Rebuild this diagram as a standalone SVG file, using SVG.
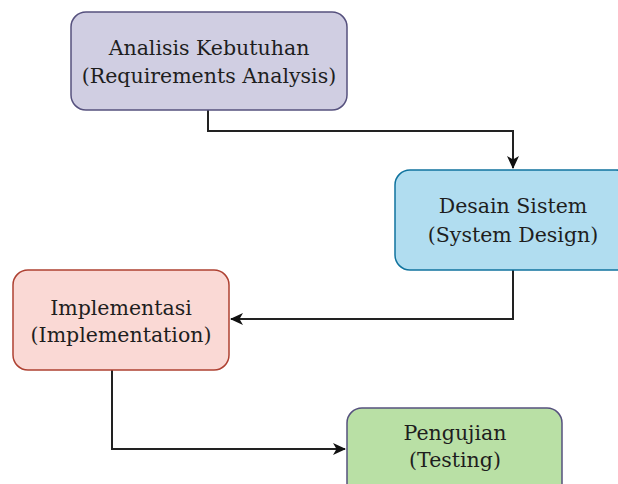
<svg xmlns="http://www.w3.org/2000/svg" width="618" height="484" viewBox="0 0 618 484">
  <style>
    .box { stroke-width: 1.5; }
    .lbl { font-family: "DejaVu Serif", "Liberation Serif", serif; font-size: 20.5px; fill: #1e1e1e; text-anchor: middle; }
    .edge { fill: none; stroke: #222; stroke-width: 2; }
  </style>
  <defs>
    <marker id="arrow" viewBox="0 0 13 12" refX="12" refY="6" markerWidth="13" markerHeight="12" markerUnits="userSpaceOnUse" orient="auto">
      <path d="M0,0 L13,6 L0,12 L3.5,6 Z" fill="#111"/>
    </marker>
  </defs>
  <rect width="618" height="484" fill="#fff"/>

  <g id="connectors">
    <path class="edge" d="M208,110 V131 H513 V168" marker-end="url(#arrow)"/>
    <path class="edge" d="M513,270 V319 H231" marker-end="url(#arrow)"/>
    <path class="edge" d="M112,370 V449 H345" marker-end="url(#arrow)"/>
  </g>

  <g id="analisis">
    <rect class="box" x="71" y="12" width="276" height="98" rx="15" fill="#d0cee2" stroke="#56517e"/>
    <text class="lbl" x="209" y="55">Analisis Kebutuhan</text>
    <text class="lbl" x="209" y="83">(Requirements Analysis)</text>
  </g>

  <g id="desain">
    <rect class="box" x="395" y="170" width="236" height="100" rx="15" fill="#b1ddf0" stroke="#10739e"/>
    <text class="lbl" x="513" y="213">Desain Sistem</text>
    <text class="lbl" x="513" y="242">(System Design)</text>
  </g>

  <g id="implementasi">
    <rect class="box" x="13" y="270" width="216" height="100" rx="15" fill="#fad9d5" stroke="#ae4132"/>
    <text class="lbl" x="121" y="315">Implementasi</text>
    <text class="lbl" x="121" y="342">(Implementation)</text>
  </g>

  <g id="pengujian">
    <rect class="box" x="347" y="408" width="215" height="100" rx="15" fill="#b9e0a5" stroke="#56517e"/>
    <text class="lbl" x="455" y="440">Pengujian</text>
    <text class="lbl" x="455" y="467">(Testing)</text>
  </g>
</svg>
